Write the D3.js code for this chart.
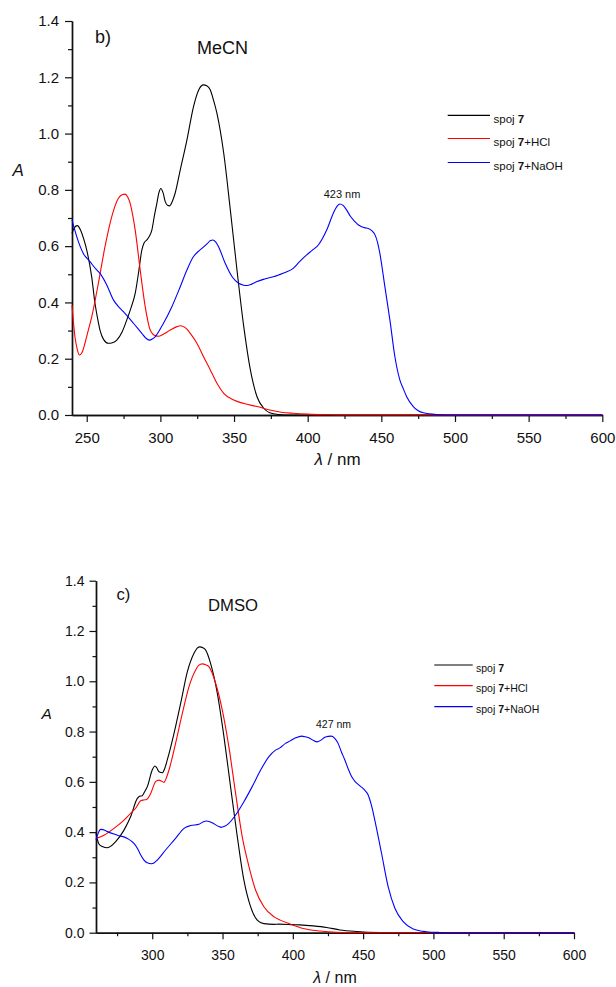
<!DOCTYPE html>
<html><head><meta charset="utf-8">
<script src="https://cdn.jsdelivr.net/npm/d3@7"></script>
<style>
body{margin:0;background:#fff}
svg{display:block}
text{font-family:"Liberation Sans",Arial,Helvetica,sans-serif;fill:#111}
</style>
</head><body>
<svg id="chart" width="616" height="987"></svg>
<script>
// ---------- data ----------
const seriesNames = ["spoj ", "spoj ", "spoj "];
const seriesBold = ["7", "7", "7"];
const seriesSuffix = ["", "+HCl", "+NaOH"];
const seriesColors = ["#000000", "#ff0000", "#0000ff"];
const yDomain = [0, 1.4];
const yMajorTicks = [0, 0.2, 0.4, 0.6, 0.8, 1.0, 1.2, 1.4];
const yMinorTicks = [0.1, 0.3, 0.5, 0.7, 0.9, 1.1, 1.3];
const mecnXMajorTicks = [250, 300, 350, 400, 450, 500, 550, 600];
const mecnXMinorTicks = [275, 325, 375, 425, 475, 525, 575];
const dmsoXMajorTicks = [300, 350, 400, 450, 500, 550, 600];
const dmsoXMinorTicks = [275, 325, 375, 425, 475, 525, 575];

// MeCN (panel b)
const mecnSpoj7 = [[240,0.645],[241.5,0.665],[243.6,0.673],[246,0.655],[248,0.625],[250,0.586],[253.4,0.49],[255.6,0.397],[257.5,0.34],[259,0.302],[261.5,0.268],[264.7,0.255],[267.5,0.257],[270.4,0.266],[274,0.295],[277.2,0.338],[280,0.38],[282.9,0.432],[285.3,0.51],[287.4,0.586],[289,0.612],[290.8,0.622],[292.5,0.635],[294.2,0.657],[296,0.71],[297.6,0.752],[299,0.79],[300.3,0.805],[301.8,0.79],[303.3,0.758],[304.8,0.745],[306.2,0.743],[308,0.758],[310,0.788],[313.5,0.871],[318,0.977],[322.5,1.096],[326,1.155],[329.3,1.173],[331.5,1.17],[333.9,1.155],[336,1.12],[338.4,1.072],[343,0.93],[347.5,0.728],[352,0.515],[356.6,0.314],[361.1,0.16],[365.6,0.065],[370.2,0.024],[374.2,0.008],[380,0.002],[390,0],[600,0]];
const mecnHCl = [[240,0.39],[242,0.278],[243.5,0.235],[245,0.213],[246.8,0.222],[248.8,0.255],[251,0.3],[253.4,0.349],[257.9,0.468],[262.4,0.598],[267,0.705],[271.5,0.77],[274,0.783],[276,0.785],[277.8,0.775],[279.5,0.752],[281.2,0.71],[282.9,0.657],[286.3,0.515],[289.7,0.385],[293.1,0.302],[296.5,0.282],[299,0.28],[301,0.284],[306.7,0.302],[311.2,0.314],[313.5,0.317],[315.7,0.314],[318,0.305],[320.3,0.29],[324.8,0.255],[329.3,0.207],[333.9,0.16],[338.4,0.113],[343,0.077],[349.8,0.053],[356.6,0.041],[365.6,0.03],[374.2,0.018],[382,0.01],[390.2,0.006],[400,0.003],[413,0.001],[430,0],[600,0]];
const mecnNaOH = [[240,0.693],[243.2,0.634],[247.7,0.574],[252.2,0.545],[256,0.52],[259,0.503],[263.6,0.462],[268.1,0.409],[271.5,0.385],[274.9,0.367],[281.7,0.326],[287.4,0.29],[290,0.274],[292.4,0.266],[294.5,0.27],[296.4,0.278],[302.1,0.326],[307.8,0.385],[313.5,0.456],[318,0.515],[322.5,0.563],[325.5,0.58],[328.2,0.592],[332,0.61],[334,0.62],[335.7,0.622],[337.5,0.615],[339.5,0.598],[344,0.539],[348.6,0.492],[353.1,0.468],[356,0.462],[358.8,0.46],[362,0.465],[365.6,0.474],[370,0.482],[376.6,0.491],[380.5,0.498],[384.6,0.506],[390.2,0.521],[394.5,0.545],[399.3,0.569],[403,0.585],[407.2,0.604],[412.9,0.657],[417.4,0.717],[420,0.742],[421.9,0.75],[424,0.745],[426.5,0.728],[429,0.706],[432.1,0.687],[434.5,0.675],[436.6,0.669],[439,0.665],[441.1,0.663],[443.5,0.655],[445.7,0.64],[447.5,0.612],[449,0.574],[452.4,0.456],[455.8,0.338],[459.2,0.207],[462.6,0.124],[465,0.092],[467.2,0.065],[471.7,0.03],[478.4,0.008],[487.5,0.002],[500,0],[600,0]];

// DMSO (panel c)
const dmsoSpoj7 = [[260,0.395],[261,0.37],[262.1,0.353],[264.5,0.343],[268.1,0.338],[271,0.346],[274,0.362],[279.9,0.408],[284.6,0.461],[289.4,0.534],[291,0.543],[292.9,0.545],[294.5,0.56],[296.5,0.581],[300,0.647],[301.9,0.663],[303.3,0.655],[304.8,0.64],[307.2,0.636],[309,0.655],[310.7,0.687],[315.5,0.793],[320.2,0.912],[325,1.038],[329.7,1.111],[332,1.132],[333.9,1.137],[336,1.133],[338,1.124],[341.5,1.071],[346.3,0.952],[351,0.78],[355.7,0.581],[360.5,0.382],[365.2,0.209],[370,0.103],[374.7,0.05],[379.4,0.036],[386.5,0.033],[390,0.034],[400,0.032],[405,0.031],[414.5,0.027],[424,0.021],[433.5,0.011],[445.3,0.005],[462,0.001],[480,0],[600,0]];
const dmsoHCl = [[260,0.375],[265.7,0.388],[272.8,0.415],[279.9,0.448],[284.6,0.475],[288.2,0.495],[291.8,0.525],[294,0.528],[296,0.53],[298.9,0.554],[302.4,0.601],[304.8,0.607],[306.5,0.603],[308.3,0.598],[310,0.615],[311.9,0.647],[316.6,0.753],[321.4,0.872],[326.1,0.978],[330.9,1.045],[333,1.063],[335.6,1.069],[338,1.066],[340.3,1.058],[345.1,0.992],[349.8,0.886],[354.5,0.74],[359.3,0.554],[364,0.382],[368.8,0.263],[373.5,0.17],[379.4,0.103],[386.5,0.064],[391,0.05],[397.9,0.035],[407.4,0.017],[419.2,0.007],[431,0.002],[450,0],[600,0]];
const dmsoNaOH = [[260,0.369],[261.5,0.395],[263.3,0.411],[265,0.41],[268.1,0.402],[275.2,0.388],[282.3,0.375],[287,0.355],[289.5,0.335],[291.8,0.309],[294,0.29],[296.5,0.278],[299.3,0.274],[301.5,0.278],[303.6,0.289],[309.5,0.329],[316.6,0.375],[322.6,0.415],[327.3,0.426],[333.2,0.431],[336,0.44],[338.7,0.444],[340.5,0.442],[342.7,0.437],[347.4,0.422],[349,0.419],[351,0.422],[354.5,0.435],[359.3,0.468],[365.2,0.521],[371.1,0.581],[377.1,0.647],[383,0.7],[387.7,0.726],[390.8,0.735],[394.8,0.753],[397.9,0.762],[402,0.775],[406.2,0.782],[409,0.779],[412.1,0.773],[414.5,0.765],[417.3,0.759],[420,0.766],[422.8,0.777],[425,0.781],[427.5,0.782],[430,0.772],[432.2,0.753],[434.5,0.72],[437,0.687],[439.5,0.65],[441.8,0.621],[444.5,0.6],[447.7,0.584],[451,0.568],[453.6,0.548],[456,0.505],[458.3,0.448],[463.1,0.316],[467.8,0.183],[472.6,0.097],[478.5,0.044],[485.6,0.015],[495,0.004],[504.5,0.001],[515,0],[600,0]];

const panelLetters = ["b)", "c)"];
const solvents = ["MeCN", "DMSO"];
const peakLabels = ["423 nm", "427 nm"];
const yLabel = "A";
const xLabel = "\u03bb / nm";

// ---------- layout ----------
const panels = [
  {series:[mecnSpoj7, mecnHCl, mecnNaOH], xDomain:[240,600], xMajor:mecnXMajorTicks, xMinor:mecnXMinorTicks,
   left:72, right:602.3, top:21, bottom:415, tickFont:15, majorLen:7, minorLen:4, yPad:6, xPad:10,
   letter:panelLetters[0], letterPos:[95,43], solvent:solvents[0], solventPos:[197,54], titleFont:18,
   yLabPos:[12.5,176], yLabFont:17, xLabPos:[337.5,465], xLabFont:17,
   peak:peakLabels[0], peakPos:[342,197.5], peakFont:11,
   legX0:447.7, legX1:490, legTextX:493.5, legYs:[115.3,138.5,162.5], legDy:7.3, legFont:11.5},
  {series:[dmsoSpoj7, dmsoHCl, dmsoNaOH], xDomain:[260,600], xMajor:dmsoXMajorTicks, xMinor:dmsoXMinorTicks,
   left:96, right:574, top:580.7, bottom:932.7, tickFont:14, majorLen:6.5, minorLen:3.5, yPad:5, xPad:10,
   letter:panelLetters[1], letterPos:[116.5,600], solvent:solvents[1], solventPos:[208,610.5], titleFont:16.7,
   yLabPos:[41.5,719], yLabFont:15.5, xLabPos:[335,982.5], xLabFont:16,
   peak:peakLabels[1], peakPos:[333.5,728.3], peakFont:10.5,
   legX0:434.3, legX1:472.7, legTextX:476, legYs:[665,685.7,706.7], legDy:6.5, legFont:10.5}
];

const svg = d3.select("#chart");

panels.forEach(p => {
  const x = d3.scaleLinear().domain(p.xDomain).range([p.left, p.right]);
  const y = d3.scaleLinear().domain(yDomain).range([p.bottom, p.top]);
  const g = svg.append("g");

  // y minor
  g.append("g").attr("class","ax").attr("transform",`translate(${p.left},0)`)
    .call(d3.axisLeft(y).tickValues(yMinorTicks).tickSize(p.minorLen).tickSizeOuter(0).tickFormat(""));
  // y major
  g.append("g").attr("class","ax").attr("transform",`translate(${p.left},0)`)
    .call(d3.axisLeft(y).tickValues(yMajorTicks).tickSize(p.majorLen).tickSizeOuter(0)
      .tickPadding(p.yPad).tickFormat(d3.format(".1f")));
  // x minor
  g.append("g").attr("class","ax").attr("transform",`translate(0,${p.bottom})`)
    .call(d3.axisBottom(x).tickValues(p.xMinor).tickSize(p.minorLen).tickSizeOuter(0).tickFormat(""));
  // x major
  g.append("g").attr("class","ax").attr("transform",`translate(0,${p.bottom})`)
    .call(d3.axisBottom(x).tickValues(p.xMajor).tickSize(p.majorLen).tickSizeOuter(0)
      .tickPadding(p.xPad - p.majorLen + 7).tickFormat(d3.format("d")));

  g.selectAll(".ax path.domain").attr("stroke","#111").attr("stroke-width",1.4);
  g.selectAll(".ax .tick line").attr("stroke","#111").attr("stroke-width",1.2);
  g.selectAll(".ax text").attr("font-size",p.tickFont).attr("fill","#111")
    .attr("font-family","'Liberation Sans',Arial,sans-serif");

  // curves
  const line = d3.line().x(d => x(d[0])).y(d => y(d[1])).curve(d3.curveMonotoneX);
  p.series.forEach((s, i) => {
    g.append("path").datum(s).attr("d", line).attr("fill","none")
      .attr("stroke", seriesColors[i]).attr("stroke-width",1.1);
  });

  // titles
  g.append("text").attr("x",p.letterPos[0]).attr("y",p.letterPos[1]).attr("font-size",p.titleFont).text(p.letter);
  g.append("text").attr("x",p.solventPos[0]).attr("y",p.solventPos[1]).attr("font-size",p.titleFont).text(p.solvent);
  g.append("text").attr("x",p.yLabPos[0]).attr("y",p.yLabPos[1]).attr("font-size",p.yLabFont)
    .attr("font-style","italic").text(yLabel);
  const xl = g.append("text").attr("x",p.xLabPos[0]).attr("y",p.xLabPos[1]).attr("font-size",p.xLabFont)
    .attr("text-anchor","middle");
  xl.append("tspan").attr("font-style","italic").text("\u03bb");
  xl.append("tspan").text(" / nm");
  g.append("text").attr("x",p.peakPos[0]).attr("y",p.peakPos[1]).attr("font-size",p.peakFont)
    .attr("text-anchor","middle").text(p.peak);

  // legend
  seriesColors.forEach((c, i) => {
    const ly = p.legYs[i];
    g.append("line").attr("x1",p.legX0).attr("x2",p.legX1).attr("y1",ly).attr("y2",ly)
      .attr("stroke",c).attr("stroke-width",1.2);
    const t = g.append("text").attr("x",p.legTextX).attr("y",ly + p.legDy).attr("font-size",p.legFont);
    t.append("tspan").text(seriesNames[i]);
    t.append("tspan").attr("font-weight","bold").text(seriesBold[i]);
    t.append("tspan").text(seriesSuffix[i]);
  });
});
</script>
</body></html>
